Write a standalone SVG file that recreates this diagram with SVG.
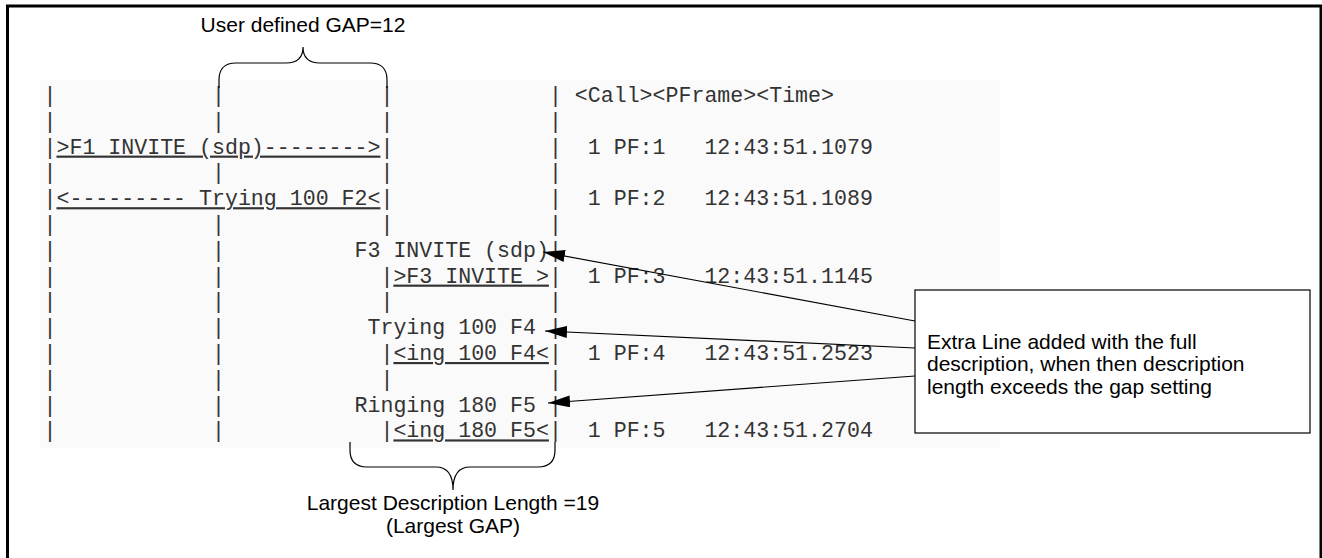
<svg xmlns="http://www.w3.org/2000/svg" width="1322" height="558" viewBox="0 0 1322 558">
  <style>
    .mono { font-family: "Liberation Mono", "DejaVu Sans Mono", monospace; font-size: 21.6px; fill: #333; white-space: pre; }
    .u { text-decoration: underline; }
    .sans { font-family: "Liberation Sans", Arial, sans-serif; font-size: 21px; fill: #000; }
    .brace { fill: none; stroke: #000; stroke-width: 1.2; }
    .conn { stroke: #000; stroke-width: 1.2; fill: none; }
  </style>
  <defs>
    <marker id="arrow" viewBox="0 0 22 12" refX="22" refY="6" markerWidth="22" markerHeight="12" markerUnits="userSpaceOnUse" orient="auto">
      <path d="M0,0 L22,6 L0,12 z" fill="#000"/>
    </marker>
  </defs>

  <rect x="0" y="0" width="1322" height="558" fill="#fff"/>
  <rect id="frame" x="7.5" y="6" width="1313.5" height="600" fill="none" stroke="#000" stroke-width="3"/>

  <g id="listing">
    <rect x="40" y="80" width="960" height="368" fill="#fafafa"/>
    <text class="mono" xml:space="preserve" x="43.5" y="102">|            |            |            | &lt;Call&gt;&lt;PFrame&gt;&lt;Time&gt;</text>
    <text class="mono" xml:space="preserve" x="43.5" y="127.8">|            |            |            |</text>
    <text class="mono" xml:space="preserve" x="43.5" y="153.6">|<tspan class="u">&gt;F1 INVITE (sdp)--------&gt;</tspan>|            |  1 PF:1   12:43:51.1079</text>
    <text class="mono" xml:space="preserve" x="43.5" y="179.4">|            |            |            |</text>
    <text class="mono" xml:space="preserve" x="43.5" y="205.2">|<tspan class="u">&lt;--------- Trying 100 F2&lt;</tspan>|            |  1 PF:2   12:43:51.1089</text>
    <text class="mono" xml:space="preserve" x="43.5" y="231">|            |            |            |</text>
    <text class="mono" xml:space="preserve" x="43.5" y="256.8">|            |          F3 INVITE (sdp)|</text>
    <text class="mono" xml:space="preserve" x="43.5" y="282.6">|            |            |<tspan class="u">&gt;F3 INVITE &gt;</tspan>|  1 PF:3   12:43:51.1145</text>
    <text class="mono" xml:space="preserve" x="43.5" y="308.4">|            |            |            |</text>
    <text class="mono" xml:space="preserve" x="43.5" y="334.2">|            |           Trying 100 F4 |</text>
    <text class="mono" xml:space="preserve" x="43.5" y="360">|            |            |<tspan class="u">&lt;ing 100 F4&lt;</tspan>|  1 PF:4   12:43:51.2523</text>
    <text class="mono" xml:space="preserve" x="43.5" y="385.8">|            |            |            |</text>
    <text class="mono" xml:space="preserve" x="43.5" y="411.6">|            |          Ringing 180 F5 |</text>
    <text class="mono" xml:space="preserve" x="43.5" y="437.4">|            |            |<tspan class="u">&lt;ing 180 F5&lt;</tspan>|  1 PF:5   12:43:51.2704</text>
  </g>

  <g id="gap-label">
    <path class="brace" d="M219,88 V80 Q219,63 236,63 H286 Q303,63 303,47 Q303,63 320,63 H370 Q387,63 387,80 V88"/>
    <text class="sans" x="303" y="32" text-anchor="middle">User defined GAP=12</text>
  </g>

  <g id="largest-label">
    <path class="brace" d="M350,442 V450 Q350,467 367,467 H436 Q453,467 453,490 Q453,467 470,467 H538 Q555,467 555,450 V442"/>
    <text class="sans" x="453" y="510" text-anchor="middle">Largest Description Length =19</text>
    <text class="sans" x="453" y="533" text-anchor="middle">(Largest GAP)</text>
  </g>

  <g id="note">
    <rect x="915" y="290" width="395" height="143" fill="#fff" stroke="#000" stroke-width="1.2"/>
    <text class="sans" x="927" y="349">Extra Line added with the full</text>
    <text class="sans" x="927" y="371">description, when then description</text>
    <text class="sans" x="927" y="394">length exceeds the gap setting</text>
  </g>

  <g id="connectors">
    <line class="conn" x1="915" y1="321" x2="543" y2="252" marker-end="url(#arrow)"/>
    <line class="conn" x1="915" y1="348" x2="545" y2="331" marker-end="url(#arrow)"/>
    <line class="conn" x1="915" y1="376" x2="548" y2="403" marker-end="url(#arrow)"/>
  </g>
</svg>
